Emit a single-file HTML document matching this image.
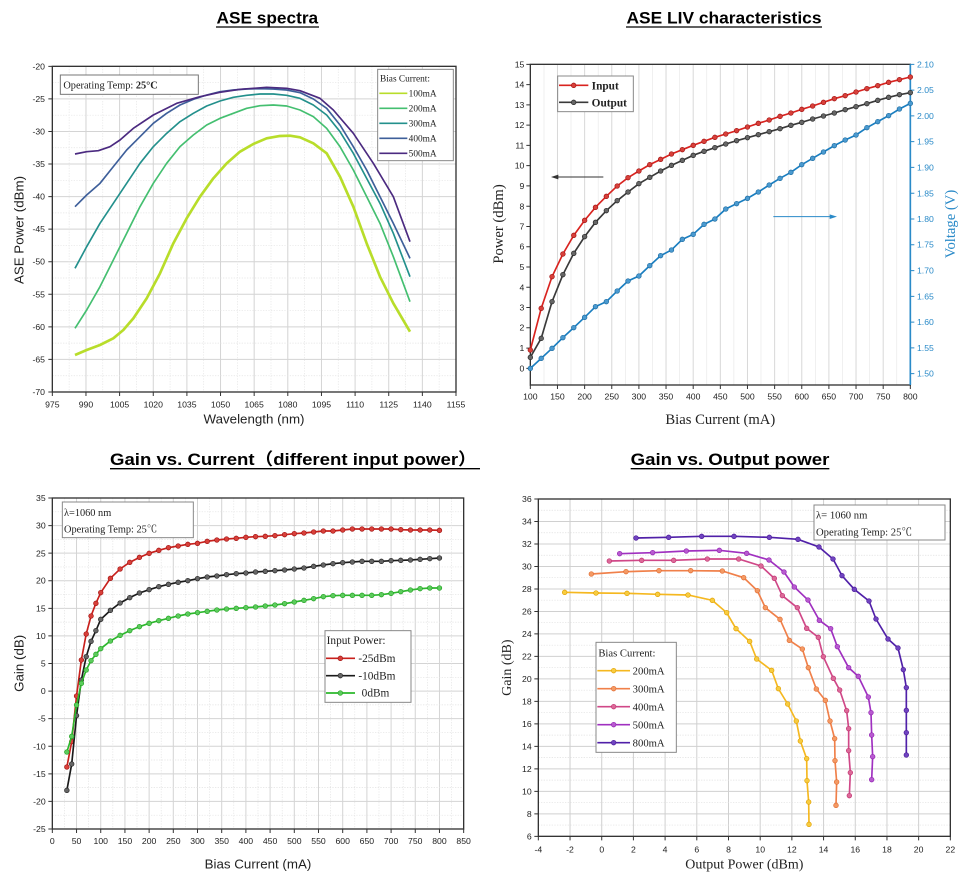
<!DOCTYPE html>
<html><head><meta charset="utf-8"><style>html,body{margin:0;padding:0;background:#fff}svg{display:block}</style></head><body>
<svg width="973" height="886" viewBox="0 0 973 886" xmlns="http://www.w3.org/2000/svg" font-family="'Liberation Sans',sans-serif">
<defs>
<marker id="mR" markerUnits="userSpaceOnUse" markerWidth="20" markerHeight="20" refX="10" refY="10"><circle cx="10" cy="10" r="7" fill="#d8403a" stroke="#a01010" stroke-width="2"/></marker>
<marker id="mK" markerUnits="userSpaceOnUse" markerWidth="20" markerHeight="20" refX="10" refY="10"><circle cx="10" cy="10" r="7" fill="#666" stroke="#222" stroke-width="2"/></marker>
<marker id="mB" markerUnits="userSpaceOnUse" markerWidth="20" markerHeight="20" refX="10" refY="10"><circle cx="10" cy="10" r="7" fill="#4a9ad0" stroke="#1a6aa0" stroke-width="2"/></marker>
<marker id="mG" markerUnits="userSpaceOnUse" markerWidth="20" markerHeight="20" refX="10" refY="10"><circle cx="10" cy="10" r="7" fill="#5ccc5c" stroke="#20a020" stroke-width="2"/></marker>
<marker id="m1" markerUnits="userSpaceOnUse" markerWidth="20" markerHeight="20" refX="10" refY="10"><circle cx="10" cy="10" r="7" fill="#f8cc40" stroke="#e0a000" stroke-width="2"/></marker>
<marker id="m2" markerUnits="userSpaceOnUse" markerWidth="20" markerHeight="20" refX="10" refY="10"><circle cx="10" cy="10" r="7" fill="#f49a64" stroke="#e06a30" stroke-width="2"/></marker>
<marker id="m3" markerUnits="userSpaceOnUse" markerWidth="20" markerHeight="20" refX="10" refY="10"><circle cx="10" cy="10" r="7" fill="#dc6a98" stroke="#c03070" stroke-width="2"/></marker>
<marker id="m4" markerUnits="userSpaceOnUse" markerWidth="20" markerHeight="20" refX="10" refY="10"><circle cx="10" cy="10" r="7" fill="#b85ad0" stroke="#9020b0" stroke-width="2"/></marker>
<marker id="m5" markerUnits="userSpaceOnUse" markerWidth="20" markerHeight="20" refX="10" refY="10"><circle cx="10" cy="10" r="7" fill="#7044c0" stroke="#4a1898" stroke-width="2"/></marker>
</defs>

<!-- Chart 1 -->
<g transform="scale(0.33333)">
<text x="802" y="70" font-size="51" font-weight="bold" text-anchor="middle" textLength="305" lengthAdjust="spacingAndGlyphs">ASE spectra</text>
<line x1="648" y1="81" x2="957" y2="81" stroke="#000" stroke-width="4"/>
<path d="M257.9 199V1176M358.8 199V1176M459.8 199V1176M560.7 199V1176M661.6 199V1176M762.5 199V1176M863.4 199V1176M964.4 199V1176M1065.3 199V1176M1166.2 199V1176M1267.1 199V1176M157 296.7H1368M157 394.4H1368M157 492.1H1368M157 589.8H1368M157 687.5H1368M157 785.2H1368M157 882.9H1368M157 980.6H1368M157 1078.3H1368" stroke="#d4d4d4" stroke-width="3" fill="none"/>
<path d="M207.4 199V1176M308.3 199V1176M409.3 199V1176M510.2 199V1176M611.1 199V1176M712 199V1176M813 199V1176M913.9 199V1176M1014.8 199V1176M1115.7 199V1176M1216.6 199V1176M1317.5 199V1176M157 247.8H1368M157 345.5H1368M157 443.2H1368M157 541H1368M157 638.6H1368M157 736.4H1368M157 834H1368M157 931.8H1368M157 1029.4H1368M157 1127.2H1368" stroke="#e4e4e4" stroke-width="2" stroke-dasharray="4 4" fill="none"/>
<rect x="157" y="199" width="1211" height="977" fill="none" stroke="#333" stroke-width="4"/>
<g stroke="#333" stroke-width="3">
<path d="M157 1176v12M257.9 1176v12M358.8 1176v12M459.8 1176v12M560.7 1176v12M661.6 1176v12M762.5 1176v12M863.4 1176v12M964.4 1176v12M1065.3 1176v12M1166.2 1176v12M1267.1 1176v12M1368 1176v12M157 199h-12M157 296.7h-12M157 394.4h-12M157 492.1h-12M157 589.8h-12M157 687.5h-12M157 785.2h-12M157 882.9h-12M157 980.6h-12M157 1078.3h-12M157 1176h-12"/>
</g>
<g font-size="26" fill="#222" text-anchor="middle">
<text x="157" y="1222">975</text><text x="257.9" y="1222">990</text><text x="358.8" y="1222">1005</text><text x="459.8" y="1222">1020</text><text x="560.7" y="1222">1035</text><text x="661.6" y="1222">1050</text><text x="762.5" y="1222">1065</text><text x="863.4" y="1222">1080</text><text x="964.4" y="1222">1095</text><text x="1065.3" y="1222">1110</text><text x="1166.2" y="1222">1125</text><text x="1267.1" y="1222">1140</text><text x="1368" y="1222">1155</text>
</g>
<g font-size="26" fill="#222" text-anchor="end">
<text x="135" y="208">-20</text><text x="135" y="306">-25</text><text x="135" y="403">-30</text><text x="135" y="501">-35</text><text x="135" y="599">-40</text><text x="135" y="696">-45</text><text x="135" y="794">-50</text><text x="135" y="892">-55</text><text x="135" y="990">-60</text><text x="135" y="1087">-65</text><text x="135" y="1185">-70</text>
</g>
<text x="762" y="1270" font-size="40" text-anchor="middle" fill="#222">Wavelength (nm)</text>
<text transform="translate(70,690) rotate(-90)" font-size="40" text-anchor="middle" fill="#222">ASE Power (dBm)</text>
<g fill="none" stroke-width="5" stroke-linejoin="round">
<polyline stroke="#b8dd2a" stroke-width="8" points="225,1065 260,1050 300,1035 340,1015 370,990 400,955 440,895 480,820 520,730 560,655 600,590 640,535 680,490 720,455 760,432 800,415 840,408 870,407 900,412 940,430 980,460 1020,530 1060,620 1100,730 1140,830 1180,910 1230,995"/>
<polyline stroke="#44bf70" points="225,985 260,930 300,860 340,780 380,700 420,620 460,550 500,490 540,440 580,405 620,375 660,355 700,340 740,325 780,317 820,315 860,318 900,330 940,350 980,385 1020,440 1060,510 1100,590 1140,670 1180,770 1230,905"/>
<polyline stroke="#23908c" points="225,805 260,740 300,670 340,610 380,550 420,490 460,440 500,400 540,365 580,340 620,318 660,303 700,292 740,286 780,282 820,282 860,286 900,295 940,315 980,345 1020,395 1060,460 1100,535 1140,610 1180,700 1230,830"/>
<polyline stroke="#3e5f9a" points="225,620 260,585 300,550 340,500 380,450 420,410 460,370 500,340 540,315 580,298 620,285 660,275 700,270 740,267 780,266 820,267 860,270 900,278 940,297 980,325 1020,375 1060,440 1100,510 1140,590 1180,670 1230,775"/>
<polyline stroke="#4b2a80" points="225,462 260,455 295,452 330,440 360,420 400,385 460,345 530,310 600,290 660,277 720,268 800,262 860,265 900,272 960,295 1000,330 1060,400 1120,490 1180,590 1230,725"/>
</g>
<rect x="181" y="225" width="414" height="58" fill="#fff" stroke="#777" stroke-width="3"/>
<text x="190" y="266" font-family="'Liberation Serif',serif" font-size="31" fill="#222">Operating Temp:  <tspan font-weight="bold">25°C</tspan></text>
<rect x="1133" y="208" width="227" height="274" fill="#fff" stroke="#888" stroke-width="3"/>
<g font-family="'Liberation Serif',serif" font-size="28" fill="#222">
<text x="1140" y="245">Bias Current:</text>
<text x="1226" y="290">100mA</text><text x="1226" y="335">200mA</text><text x="1226" y="380">300mA</text><text x="1226" y="425">400mA</text><text x="1226" y="470">500mA</text>
</g>
<g stroke-width="5"><line x1="1138" y1="280" x2="1222" y2="280" stroke="#b8dd2a"/><line x1="1138" y1="325" x2="1222" y2="325" stroke="#44bf70"/><line x1="1138" y1="370" x2="1222" y2="370" stroke="#23908c"/><line x1="1138" y1="415" x2="1222" y2="415" stroke="#3e5f9a"/><line x1="1138" y1="460" x2="1222" y2="460" stroke="#4b2a80"/></g>
</g>

<!-- Chart 2 -->
<g transform="translate(485,0) scale(0.33333)">
<text x="717" y="70" font-size="51" font-weight="bold" text-anchor="middle" textLength="585" lengthAdjust="spacingAndGlyphs">ASE LIV characteristics</text>
<line x1="423" y1="81" x2="1011" y2="81" stroke="#000" stroke-width="4"/>
<path d="M217.4 193V1155M298.9 193V1155M380.3 193V1155M461.7 193V1155M543.1 193V1155M624.6 193V1155M706 193V1155M787.4 193V1155M868.9 193V1155M950.3 193V1155M1031.7 193V1155M1113.1 193V1155M1194.6 193V1155" stroke="#d8d8d8" stroke-width="3" fill="none"/>
<path d="M177 193V1155M258 193V1155M339.6 193V1155M421 193V1155M502.4 193V1155M583.8 193V1155M665.3 193V1155M746.7 193V1155M828 193V1155M909.6 193V1155M991 193V1155M1072.4 193V1155M1153.8 193V1155M1235.3 193V1155" stroke="#e8e8e8" stroke-width="2" fill="none"/>
<rect x="136" y="193" width="1140" height="962" fill="none" stroke="#333" stroke-width="4"/>
<line x1="1276" y1="193" x2="1276" y2="1155" stroke="#2a8ac8" stroke-width="5"/>
<path d="M136 1155v12M217.4 1155v12M298.9 1155v12M380.3 1155v12M461.7 1155v12M543.1 1155v12M624.6 1155v12M706 1155v12M787.4 1155v12M868.9 1155v12M950.3 1155v12M1031.7 1155v12M1113.1 1155v12M1194.6 1155v12M1276 1155v12M136 1105h-12M136 1044.2h-12M136 983.4h-12M136 922.6h-12M136 861.8h-12M136 801h-12M136 740.2h-12M136 679.4h-12M136 618.6h-12M136 557.8h-12M136 497h-12M136 436.2h-12M136 375.4h-12M136 314.6h-12M136 253.8h-12M136 193h-12" stroke="#333" stroke-width="3"/>
<path d="M1276 1121h12M1276 1043.7h12M1276 966.3h12M1276 889h12M1276 811.7h12M1276 734.3h12M1276 657h12M1276 579.7h12M1276 502.3h12M1276 425h12M1276 347.7h12M1276 270.3h12M1276 193h12" stroke="#2a8ac8" stroke-width="3"/>
<g font-size="26" fill="#222" text-anchor="middle">
<text x="136" y="1198">100</text><text x="217.4" y="1198">150</text><text x="298.9" y="1198">200</text><text x="380.3" y="1198">250</text><text x="461.7" y="1198">300</text><text x="543.1" y="1198">350</text><text x="624.6" y="1198">400</text><text x="706" y="1198">450</text><text x="787.4" y="1198">500</text><text x="868.9" y="1198">550</text><text x="950.3" y="1198">600</text><text x="1031.7" y="1198">650</text><text x="1113.1" y="1198">700</text><text x="1194.6" y="1198">750</text><text x="1276" y="1198">800</text>
</g>
<g font-size="26" fill="#222" text-anchor="end">
<text x="118" y="1114">0</text><text x="118" y="1053">1</text><text x="118" y="992">2</text><text x="118" y="932">3</text><text x="118" y="871">4</text><text x="118" y="810">5</text><text x="118" y="749">6</text><text x="118" y="688">7</text><text x="118" y="628">8</text><text x="118" y="567">9</text><text x="118" y="506">10</text><text x="118" y="445">11</text><text x="118" y="384">12</text><text x="118" y="324">13</text><text x="118" y="263">14</text><text x="118" y="202">15</text>
</g>
<g font-size="26" fill="#2a8ac8" text-anchor="start">
<text x="1296" y="1130">1.50</text><text x="1296" y="1053">1.55</text><text x="1296" y="975">1.60</text><text x="1296" y="898">1.65</text><text x="1296" y="821">1.70</text><text x="1296" y="743">1.75</text><text x="1296" y="666">1.80</text><text x="1296" y="589">1.85</text><text x="1296" y="511">1.90</text><text x="1296" y="434">1.95</text><text x="1296" y="357">2.00</text><text x="1296" y="279">2.05</text><text x="1296" y="202">2.10</text>
</g>
<text x="706" y="1272" font-family="'Liberation Serif',serif" font-size="44" text-anchor="middle" fill="#222">Bias Current (mA)</text>
<text transform="translate(54,672) rotate(-90)" font-family="'Liberation Serif',serif" font-size="44" text-anchor="middle" fill="#222">Power (dBm)</text>
<text transform="translate(1410,672) rotate(-90)" font-family="'Liberation Serif',serif" font-size="44" text-anchor="middle" fill="#2a8ac8">Voltage (V)</text>
<line x1="355" y1="531" x2="215" y2="531" stroke="#333" stroke-width="3"/><path d="M198 531l22-7v14z" fill="#333"/>
<line x1="865" y1="650" x2="1035" y2="650" stroke="#2a8ac8" stroke-width="3"/><path d="M1056 650l-22-7v14z" fill="#2a8ac8"/>
<g fill="none" stroke-width="5">
<polyline stroke="#d9231f" marker-start="url(#mR)" marker-mid="url(#mR)" marker-end="url(#mR)" points="136,1050 168.6,925 201.1,830 233.7,762 266.3,706 298.9,661 331.4,622 364,589 396.6,558 429.1,533 461.7,513 494.3,494 526.9,478 559.4,462 592,449 624.6,436 657.1,424 689.7,412 722.3,402 754.9,392 787.4,381 820,370 852.6,360 885.1,349 917.7,339 950.3,328 982.9,318 1015.4,307 1048,296 1080.6,287 1113.1,276 1145.7,266 1178.3,257 1210.9,247 1243.4,239 1276,231"/>
<polyline stroke="#3a3a3a" marker-start="url(#mK)" marker-mid="url(#mK)" marker-end="url(#mK)" points="136,1072 168.6,1015 201.1,905 233.7,824 266.3,760 298.9,710 331.4,667 364,632 396.6,602 429.1,576 461.7,551 494.3,532 526.9,513 559.4,496 592,481 624.6,466 657.1,454 689.7,443 722.3,432 754.9,422 787.4,413 820,404 852.6,395 885.1,386 917.7,376 950.3,367 982.9,357 1015.4,348 1048,339 1080.6,329 1113.1,320 1145.7,311 1178.3,301 1210.9,292 1243.4,284 1276,278"/>
<polyline stroke="#1a7ec0" marker-start="url(#mB)" marker-mid="url(#mB)" marker-end="url(#mB)" points="136,1105 168.6,1075 201.1,1045 233.7,1013 266.3,983 298.9,952 331.4,920 364,905 396.6,873 429.1,843 461.7,828 494.3,797 526.9,767 559.4,750 592,718 624.6,703 657.1,673 689.7,657 722.3,627 754.9,611 787.4,595 820,576 852.6,555 885.1,535 917.7,517 950.3,494 982.9,475 1015.4,456 1048,437 1080.6,420 1113.1,405 1145.7,383 1178.3,365 1210.9,347 1243.4,327 1276,310"/>
</g>
<rect x="218" y="228" width="227" height="107" fill="#fff" stroke="#888" stroke-width="3"/>
<line x1="222" y1="256" x2="310" y2="256" stroke="#d9231f" stroke-width="5" marker-mid="url(#mR)"/><circle cx="266" cy="256" r="7" fill="#d8403a" stroke="#a01010" stroke-width="2"/>
<line x1="222" y1="307" x2="310" y2="307" stroke="#3a3a3a" stroke-width="5"/><circle cx="266" cy="307" r="7" fill="#666" stroke="#222" stroke-width="2"/>
<g font-family="'Liberation Serif',serif" font-size="34" font-weight="bold" fill="#222"><text x="320" y="268">Input</text><text x="320" y="319">Output</text></g>
</g>

<!-- Chart 3 -->
<g transform="translate(0,440) scale(0.33333)">
<text x="330" y="75" font-size="51" font-weight="bold" font-family="'Liberation Sans','Noto Sans CJK SC',sans-serif" textLength="1100" lengthAdjust="spacingAndGlyphs">Gain vs. Current（different input power）</text>
<line x1="330" y1="86" x2="1440" y2="86" stroke="#000" stroke-width="4"/>
<path d="M229.6 174V1167M302.2 174V1167M374.8 174V1167M447.4 174V1167M519.9 174V1167M592.5 174V1167M665.1 174V1167M737.7 174V1167M810.3 174V1167M882.9 174V1167M955.5 174V1167M1028.1 174V1167M1100.7 174V1167M1173.3 174V1167M1245.8 174V1167M1318.4 174V1167M157 256.75H1391M157 339.5H1391M157 422.25H1391M157 505H1391M157 587.75H1391M157 670.5H1391M157 753.25H1391M157 836H1391M157 918.75H1391M157 1001.5H1391M157 1084.25H1391" stroke="#d4d4d4" stroke-width="3" fill="none"/>
<path d="M193.3 174V1167M265.9 174V1167M338.5 174V1167M411 174V1167M483.6 174V1167M556.2 174V1167M628.8 174V1167M701.4 174V1167M774 174V1167M846.6 174V1167M919.2 174V1167M991.8 174V1167M1064.4 174V1167M1137 174V1167M1209.5 174V1167M1282 174V1167M1354.7 174V1167M157 215.4H1391M157 298H1391M157 380.9H1391M157 463.6H1391M157 546.4H1391M157 629H1391M157 711.9H1391M157 794.6H1391M157 877.4H1391M157 960H1391M157 1042.9H1391M157 1125.6H1391" stroke="#e2e2e2" stroke-width="2" stroke-dasharray="4 4" fill="none"/>
<rect x="157" y="174" width="1234" height="993" fill="none" stroke="#333" stroke-width="4"/>
<path d="M157 1167v12M229.6 1167v12M302.2 1167v12M374.8 1167v12M447.4 1167v12M519.9 1167v12M592.5 1167v12M665.1 1167v12M737.7 1167v12M810.3 1167v12M882.9 1167v12M955.5 1167v12M1028.1 1167v12M1100.7 1167v12M1173.3 1167v12M1245.8 1167v12M1318.4 1167v12M1391 1167v12M157 174h-12M157 256.75h-12M157 339.5h-12M157 422.25h-12M157 505h-12M157 587.75h-12M157 670.5h-12M157 753.25h-12M157 836h-12M157 918.75h-12M157 1001.5h-12M157 1084.25h-12M157 1167h-12" stroke="#333" stroke-width="3"/>
<g font-size="26" fill="#222" text-anchor="middle">
<text x="157" y="1212">0</text><text x="229.6" y="1212">50</text><text x="302.2" y="1212">100</text><text x="374.8" y="1212">150</text><text x="447.4" y="1212">200</text><text x="519.9" y="1212">250</text><text x="592.5" y="1212">300</text><text x="665.1" y="1212">350</text><text x="737.7" y="1212">400</text><text x="810.3" y="1212">450</text><text x="882.9" y="1212">500</text><text x="955.5" y="1212">550</text><text x="1028.1" y="1212">600</text><text x="1100.7" y="1212">650</text><text x="1173.3" y="1212">700</text><text x="1245.8" y="1212">750</text><text x="1318.4" y="1212">800</text><text x="1391" y="1212">850</text>
</g>
<g font-size="26" fill="#222" text-anchor="end">
<text x="137" y="183">35</text><text x="137" y="266">30</text><text x="137" y="349">25</text><text x="137" y="431">20</text><text x="137" y="514">15</text><text x="137" y="597">10</text><text x="137" y="680">5</text><text x="137" y="762">0</text><text x="137" y="845">-5</text><text x="137" y="928">-10</text><text x="137" y="1011">-15</text><text x="137" y="1093">-20</text><text x="137" y="1176">-25</text>
</g>
<text x="774" y="1285" font-size="40" text-anchor="middle" fill="#222">Bias Current (mA)</text>
<text transform="translate(70,670) rotate(-90)" font-size="40" text-anchor="middle" fill="#222">Gain (dB)</text>
<g fill="none" stroke-width="5">
<polyline stroke="#c8201c" marker-start="url(#mR)" marker-mid="url(#mR)" marker-end="url(#mR)" points="200.6,981 215.1,905 229.6,768 244.1,660 258.6,582 273.1,528 287.7,490 302.2,458 331.2,415 360.3,387 389.3,367 418.3,352 447.4,340 476.4,331 505.4,323 534.5,318 563.5,313 592.5,310 621.6,304 650.6,300 679.6,297 708.7,295 737.7,292 766.7,290 795.8,289 824.8,287 853.8,284 882.9,281 911.9,279 940.9,276 970,273 999,273 1028.1,270 1057.1,267 1086.1,267 1115.2,267 1144.2,267 1173.2,267 1202.3,269 1231.3,270 1260.3,270 1289.4,270 1318.4,271"/>
<polyline stroke="#1a1a1a" marker-start="url(#mK)" marker-mid="url(#mK)" marker-end="url(#mK)" points="200.6,1051 215.1,972 229.6,827 244.1,720 258.6,650 273.1,604 287.7,572 302.2,538 331.2,511 360.3,489 389.3,473 418.3,459 447.4,449 476.4,440 505.4,433 534.5,427 563.5,422 592.5,416 621.6,411 650.6,408 679.6,404 708.7,401 737.7,399 766.7,396 795.8,394 824.8,392 853.8,390 882.9,387 911.9,384 940.9,379 970,375 999,371 1028.1,368 1057.1,366 1086.1,364 1115.2,364 1144.2,364 1173.2,362 1202.3,361 1231.3,360 1260.3,358 1289.4,356 1318.4,354"/>
<polyline stroke="#2cb82c" marker-start="url(#mG)" marker-mid="url(#mG)" marker-end="url(#mG)" points="200.6,936 215.1,889 229.6,795 244.1,730 258.6,690 273.1,662 287.7,643 302.2,626 331.2,603 360.3,586 389.3,572 418.3,560 447.4,550 476.4,542 505.4,535 534.5,528 563.5,522 592.5,518 621.6,514 650.6,510 679.6,507 708.7,505 737.7,503 766.7,501 795.8,498 824.8,495 853.8,491 882.9,486 911.9,481 940.9,476 970,470 999,467 1028.1,466 1057.1,466 1086.1,466 1115.2,466 1144.2,464 1173.2,460 1202.3,455 1231.3,450 1260.3,446 1289.4,444 1318.4,444"/>
</g>
<rect x="187" y="186" width="393" height="107" fill="#fff" stroke="#888" stroke-width="3"/>
<g font-family="'Liberation Serif',serif" font-size="31" fill="#222"><text x="192" y="228">λ=1060 nm</text><text x="192" y="278" font-family="'Liberation Serif','Noto Serif CJK SC',serif">Operating Temp:  25℃</text></g>
<rect x="975" y="572" width="258" height="215" fill="#fff" stroke="#888" stroke-width="3"/>
<g font-family="'Liberation Serif',serif" font-size="34" fill="#222"><text x="980" y="612">Input Power:</text><text x="1075" y="666">-25dBm</text><text x="1075" y="718">-10dBm</text><text x="1085" y="770">0dBm</text></g>
<line x1="978" y1="655" x2="1065" y2="655" stroke="#c8201c" stroke-width="5"/><circle cx="1021" cy="655" r="7" fill="#d8403a" stroke="#a01010" stroke-width="2"/>
<line x1="978" y1="707" x2="1065" y2="707" stroke="#1a1a1a" stroke-width="5"/><circle cx="1021" cy="707" r="7" fill="#666" stroke="#222" stroke-width="2"/>
<line x1="978" y1="759" x2="1065" y2="759" stroke="#2cb82c" stroke-width="5"/><circle cx="1021" cy="759" r="7" fill="#5ccc5c" stroke="#20a020" stroke-width="2"/>
</g>

<!-- Chart 4 -->
<g transform="translate(485,440) scale(0.33333)">
<text x="735" y="75" font-size="51" font-weight="bold" text-anchor="middle" textLength="596" lengthAdjust="spacingAndGlyphs">Gain vs. Output power</text>
<line x1="437" y1="86" x2="1033" y2="86" stroke="#000" stroke-width="4"/>
<path d="M255.1 177V1189M350.2 177V1189M445.2 177V1189M540.3 177V1189M635.4 177V1189M730.5 177V1189M825.6 177V1189M920.6 177V1189M1015.7 177V1189M1110.8 177V1189M1205.9 177V1189M1300.9 177V1189M160 244.5H1396M160 311.9H1396M160 379.4H1396M160 446.9H1396M160 514.4H1396M160 581.8H1396M160 649.3H1396M160 716.8H1396M160 784.2H1396M160 851.7H1396M160 919.2H1396M160 986.6H1396M160 1054.1H1396M160 1121.6H1396" stroke="#d0d0d0" stroke-width="3" fill="none"/>
<path d="M160 210.7H1396M160 278.2H1396M160 345.7H1396M160 413.1H1396M160 480.6H1396M160 548.1H1396M160 615.6H1396M160 683H1396M160 750.5H1396M160 818H1396M160 885.4H1396M160 952.9H1396M160 1020.4H1396M160 1087.8H1396M160 1155.3H1396" stroke="#e0e0e0" stroke-width="2" stroke-dasharray="4 4" fill="none"/>
<rect x="160" y="177" width="1236" height="1012" fill="none" stroke="#333" stroke-width="4"/>
<path d="M160 1189v12M255.1 1189v12M350.2 1189v12M445.2 1189v12M540.3 1189v12M635.4 1189v12M730.5 1189v12M825.6 1189v12M920.6 1189v12M1015.7 1189v12M1110.8 1189v12M1205.9 1189v12M1300.9 1189v12M1396 1189v12M160 177h-12M160 244.5h-12M160 311.9h-12M160 379.4h-12M160 446.9h-12M160 514.4h-12M160 581.8h-12M160 649.3h-12M160 716.8h-12M160 784.2h-12M160 851.7h-12M160 919.2h-12M160 986.6h-12M160 1054.1h-12M160 1121.6h-12M160 1189h-12" stroke="#333" stroke-width="3"/>
<g font-size="26" fill="#222" text-anchor="middle">
<text x="160" y="1238">-4</text><text x="255.1" y="1238">-2</text><text x="350.2" y="1238">0</text><text x="445.2" y="1238">2</text><text x="540.3" y="1238">4</text><text x="635.4" y="1238">6</text><text x="730.5" y="1238">8</text><text x="825.6" y="1238">10</text><text x="920.6" y="1238">12</text><text x="1015.7" y="1238">14</text><text x="1110.8" y="1238">16</text><text x="1205.9" y="1238">18</text><text x="1300.9" y="1238">20</text><text x="1396" y="1238">22</text>
</g>
<g font-size="26" fill="#222" text-anchor="end">
<text x="140" y="186">36</text><text x="140" y="253">34</text><text x="140" y="321">32</text><text x="140" y="388">30</text><text x="140" y="456">28</text><text x="140" y="523">26</text><text x="140" y="591">24</text><text x="140" y="658">22</text><text x="140" y="726">20</text><text x="140" y="793">18</text><text x="140" y="861">16</text><text x="140" y="928">14</text><text x="140" y="996">12</text><text x="140" y="1063">10</text><text x="140" y="1131">8</text><text x="140" y="1198">6</text>
</g>
<text x="778" y="1285" font-family="'Liberation Serif',serif" font-size="42" text-anchor="middle" fill="#222">Output Power (dBm)</text>
<text transform="translate(78,683) rotate(-90)" font-family="'Liberation Serif',serif" font-size="42" text-anchor="middle" fill="#222">Gain (dB)</text>
<g fill="none" stroke-width="5">
<polyline stroke="#f5b820" marker-start="url(#m1)" marker-mid="url(#m1)" marker-end="url(#m1)" points="239,457 333,459 426,460 518,463 609,465 682,481 725,518 753,566 794,604 815,657 860,691 880,746 908,792 934,843 946,903 965,956 966,1022 971,1086 972,1153"/>
<polyline stroke="#f0804a" marker-start="url(#m2)" marker-mid="url(#m2)" marker-end="url(#m2)" points="319,402 423,395 522,392 617,392 712,393 776,413 817,452 841,503 885,538 913,601 952,627 970,683 994,747 1021,781 1035,843 1049,896 1050,962 1055,1026 1053,1096"/>
<polyline stroke="#d04888" marker-start="url(#m3)" marker-mid="url(#m3)" marker-end="url(#m3)" points="373,363 470,361 566,361 667,357 761,357 828,378 868,415 892,467 937,503 965,565 1000,592 1015,650 1045,715 1064,750 1085,812 1091,866 1091,932 1096,998 1093,1067"/>
<polyline stroke="#a030c0" marker-start="url(#m4)" marker-mid="url(#m4)" marker-end="url(#m4)" points="404,341 503,338 604,333 703,331 785,340 852,360 897,396 928,441 969,480 1003,541 1037,566 1057,620 1091,683 1120,709 1150,771 1158,818 1160,885 1163,950 1160,1019"/>
<polyline stroke="#5020a8" marker-start="url(#m5)" marker-mid="url(#m5)" marker-end="url(#m5)" points="453,294 551,292 650,289 747,289 853,292 939,298 1002,321 1044,357 1071,407 1108,448 1152,483 1173,537 1209,597 1239,624 1255,689 1264,743 1264,811 1264,878 1264,945"/>
</g>
<rect x="987" y="195" width="393" height="105" fill="#fff" stroke="#888" stroke-width="3"/>
<g font-family="'Liberation Serif','Noto Serif CJK SC',serif" font-size="32" fill="#222"><text x="993" y="236">λ= 1060 nm</text><text x="993" y="286">Operating Temp:  25℃</text></g>
<rect x="333" y="607" width="241" height="330" fill="#fff" stroke="#888" stroke-width="3"/>
<g font-family="'Liberation Serif',serif" font-size="32" fill="#222"><text x="340" y="650">Bias Current:</text><text x="443" y="703">200mA</text><text x="443" y="757">300mA</text><text x="443" y="811">400mA</text><text x="443" y="865">500mA</text><text x="443" y="919">800mA</text></g>
<g stroke-width="5"><line x1="337" y1="692" x2="435" y2="692" stroke="#f5b820"/><line x1="337" y1="746" x2="435" y2="746" stroke="#f0804a"/><line x1="337" y1="800" x2="435" y2="800" stroke="#d04888"/><line x1="337" y1="854" x2="435" y2="854" stroke="#a030c0"/><line x1="337" y1="908" x2="435" y2="908" stroke="#5020a8"/></g>
<circle cx="386" cy="692" r="7" fill="#f8cc40" stroke="#e0a000" stroke-width="2"/><circle cx="386" cy="746" r="7" fill="#f49a64" stroke="#e06a30" stroke-width="2"/><circle cx="386" cy="800" r="7" fill="#dc6a98" stroke="#c03070" stroke-width="2"/><circle cx="386" cy="854" r="7" fill="#b85ad0" stroke="#9020b0" stroke-width="2"/><circle cx="386" cy="908" r="7" fill="#7044c0" stroke="#4a1898" stroke-width="2"/>
</g>
</svg>
</body></html>
